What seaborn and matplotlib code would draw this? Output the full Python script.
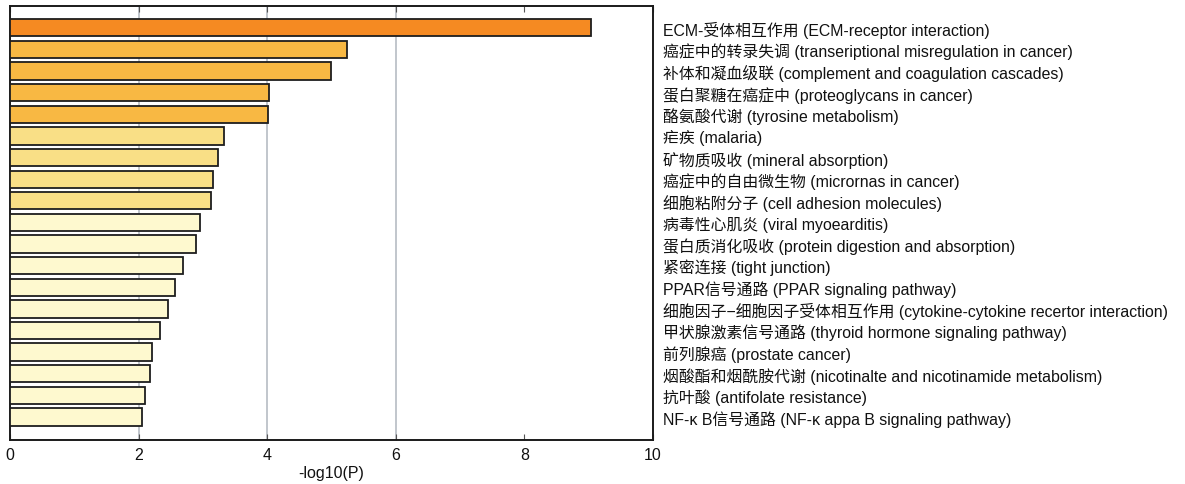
import matplotlib
matplotlib.use("Agg")
import matplotlib.pyplot as plt
import seaborn as sns
import pandas as pd

terms = [
    "ECM-受体相互作用 (ECM-receptor interaction)",
    "癌症中的转录失调 (transeriptional misregulation in cancer)",
    "补体和凝血级联 (complement and coagulation cascades)",
    "蛋白聚糖在癌症中 (proteoglycans in cancer)",
    "酪氨酸代谢 (tyrosine metabolism)",
    "疟疾 (malaria)",
    "矿物质吸收 (mineral absorption)",
    "癌症中的自由微生物 (micrornas in cancer)",
    "细胞粘附分子 (cell adhesion molecules)",
    "病毒性心肌炎 (viral myoearditis)",
    "蛋白质消化吸收 (protein digestion and absorption)",
    "紧密连接 (tight junction)",
    "PPAR信号通路 (PPAR signaling pathway)",
    "细胞因子−细胞因子受体相互作用 (cytokine-cytokine recertor interaction)",
    "甲状腺激素信号通路 (thyroid hormone signaling pathway)",
    "前列腺癌 (prostate cancer)",
    "烟酸酯和烟酰胺代谢 (nicotinalte and nicotinamide metabolism)",
    "抗叶酸 (antifolate resistance)",
    "NF-κ B信号通路 (NF-κ appa B signaling pathway)",
]
neg_log_p = [9.04, 5.24, 4.99, 4.02, 4.01, 3.32, 3.24, 3.15, 3.13, 2.95,
             2.89, 2.69, 2.56, 2.46, 2.33, 2.21, 2.18, 2.10, 2.05]
x_ticks = [0, 2, 4, 6, 8, 10]
x_label = "-log10(P)"


def bin_color(v):
    if v >= 6:
        return "#F58A22"
    if v >= 4:
        return "#F8B843"
    if v >= 3:
        return "#F9DF86"
    return "#FEF9CF"


df = pd.DataFrame({"term": terms, "value": neg_log_p})
palette = {t: bin_color(v) for t, v in zip(terms, neg_log_p)}

sns.set_style("white")
plt.rcParams["font.family"] = ["Liberation Sans", "Noto Sans CJK SC", "DejaVu Sans"]
plt.rcParams["text.color"] = "#111111"
plt.rcParams["axes.labelcolor"] = "#111111"
plt.rcParams["xtick.labelcolor"] = "#111111"
plt.rcParams["ytick.labelcolor"] = "#111111"

fig = plt.figure(figsize=(11.85, 4.85), dpi=100)
ax = fig.add_axes([0.0085, 0.091, 0.5425, 0.895])

sns.barplot(data=df, x="value", y="term", hue="term", palette=palette,
            order=terms, legend=False, width=0.8, edgecolor="#1e1e1e",
            linewidth=1.3, saturation=1, ax=ax, zorder=3)

ax.set_xlim(0, 10)
ax.set_ylim(len(terms) - 1 + 1.06, -1.02)
ax.set_xticks(x_ticks)
ax.set_xticklabels([str(t) for t in x_ticks], fontsize=11.5)
ax.set_xlabel(x_label, fontsize=11.5, labelpad=2)
ax.set_ylabel("")

# vertical reference lines behind the bars (none at 8)
ax.grid(axis="x", color="#B6BCC4", linewidth=1.2, zorder=0)
ax.grid(axis="y", visible=False)
ax.set_axisbelow(True)
for t, gl in zip(ax.get_xticks(), ax.xaxis.get_gridlines()):
    if t in (0, 8, 10):
        gl.set_visible(False)

ax.yaxis.tick_right()
ax.tick_params(axis="y", length=0, pad=7, labelsize=11.4)
ax.tick_params(axis="x", direction="in", length=4, width=0.8, color="#555555",
               top=True, bottom=True, pad=5)
for lbl in ax.get_yticklabels():
    lbl.set_horizontalalignment("left")

for s in ax.spines.values():
    s.set_visible(True)
    s.set_color("#1a1a1a")
    s.set_linewidth(1.4)

fig.savefig("out.png", dpi=100)
